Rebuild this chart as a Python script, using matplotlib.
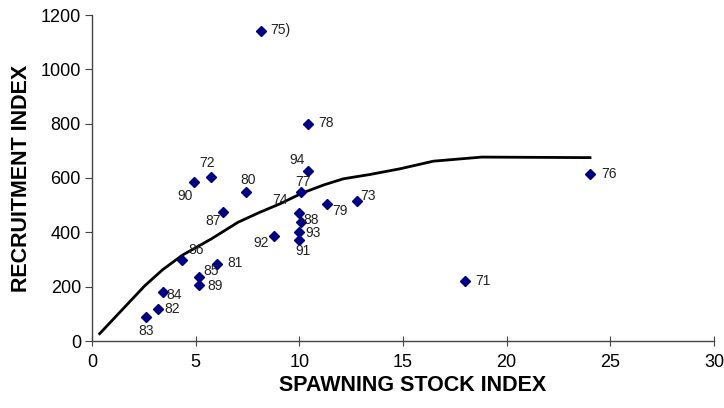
import matplotlib.pyplot as plt

plt.rcParams['font.family'] = ['Liberation Sans', 'DejaVu Sans']

# spawning stock / recruitment points, labelled by year
years = ['71', '72', '73', '74', '75)', '76', '77', '78', '79', '80', '81', '82',
         '83', '84', '85', '86', '87', '88', '89', '90', '91', '92', '93', '94']
stock = [17.99, 5.72, 12.80, 9.99, 8.14, 24.0, 10.10, 10.40, 11.32, 7.41, 6.01, 3.18,
         2.59, 3.44, 5.18, 4.36, 6.34, 10.10, 5.18, 4.94, 9.99, 8.78, 9.99, 10.42]
recruit = [221, 603, 517, 470, 1141, 613, 548, 800, 503, 548, 282, 116,
           90, 181, 236, 299, 475, 438, 207, 585, 373, 388, 402, 627]

# fitted stock-recruitment curve
curve_x = [0.37, 2.54, 3.4, 4.36, 5.76, 7.04, 8.1, 9.07, 10.12, 11.2, 12.12, 13.41,
           14.86, 16.47, 18.80, 24.02]
curve_y = [27, 203, 262, 316, 376, 437, 474, 505, 544, 575, 597, 613,
           634, 662, 677, 675]

# label offsets in pixels (dx, dy)
offsets = {
    '71': (18, 0), '72': (-4, 14), '73': (11, 5), '74': (-19, 13), '75)': (20, 1),
    '76': (19, 0), '77': (2, 10), '78': (18, 1), '79': (13, -7), '80': (2, 12),
    '81': (18, 1), '82': (14, 0), '83': (0, -14), '84': (11, -3), '85': (12, 6),
    '86': (14, 10), '87': (-10, -9), '88': (10, 2), '89': (16, -1), '90': (-9, -14),
    '91': (4, -11), '92': (-13, -7), '93': (14, -1), '94': (-11, 11),
}

fig = plt.figure(figsize=(7.24, 4.08), dpi=100)
ax = fig.add_axes([92 / 724, 67 / 408, 622 / 724, 326 / 408])

ax.plot(curve_x, curve_y, color='black', linewidth=2.0, zorder=2)
ax.plot(stock, recruit, linestyle='none', marker='D', markersize=5.5,
        color='#000080', zorder=3)

for yr, sx, ry in zip(years, stock, recruit):
    dx, dy = offsets[yr]
    ax.annotate(yr, (sx, ry), xytext=(dx * 0.72, dy * 0.72), textcoords='offset points',
                ha='center', va='center', fontsize=10, color='#222222')

ax.set_xlim(0, 30)
ax.set_ylim(0, 1200)
ax.set_xticks(range(0, 31, 5))
ax.set_yticks(range(0, 1201, 200))
ax.spines['top'].set_visible(False)
ax.spines['right'].set_visible(False)
for s in ['left', 'bottom']:
    ax.spines[s].set_color('#444444')
    ax.spines[s].set_linewidth(1.0)
ax.tick_params(axis='x', direction='inout', length=7, color='#444444', labelsize=13, pad=6)
ax.tick_params(axis='y', direction='out', length=5, color='#444444', labelsize=13, pad=3)

ax.set_xlabel('SPAWNING STOCK INDEX', fontsize=15.5, fontweight='bold')
ax.set_ylabel('RECRUITMENT INDEX', fontsize=15.5, fontweight='bold')
ax.xaxis.set_label_coords(0.515, -0.105)
ax.yaxis.set_label_coords(-0.097, 0.5)

fig.savefig('out.png', dpi=100)
